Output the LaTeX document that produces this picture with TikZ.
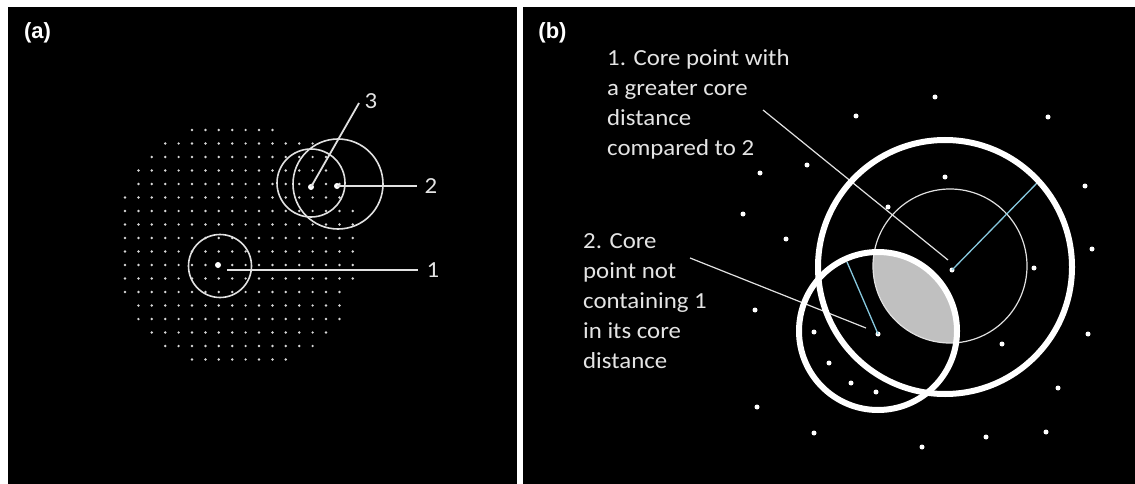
\documentclass[tikz,border=0pt]{standalone}
\usepackage{fontspec}
\setmainfont{Carlito}
\newfontfamily\notefont[FakeStretch=1.08]{Carlito}
\newfontfamily\tagfont{Liberation Sans}
\usepackage{tikz}
\usepackage{xcolor}
\usetikzlibrary{positioning,calc}
\definecolor{dotGray}{RGB}{215,215,215}
\definecolor{ringGray}{RGB}{225,225,225}
\definecolor{lensGray}{RGB}{192,192,192}
\definecolor{radiusCyan}{RGB}{135,200,222}
\definecolor{textGray}{RGB}{228,228,228}

\tikzset{
    tag/.style={text=white, font=\tagfont\bfseries\fontsize{22}{26}\selectfont, inner sep=0pt},
    numlabel/.style={text=textGray, font=\notefont\fontsize{23}{27}\selectfont, inner sep=0pt},
    note/.style={text=textGray, font=\notefont\fontsize{23}{30}\selectfont, align=left, inner sep=0pt, anchor=north west},
    centre/.style={circle, fill=white, inner sep=0pt, minimum size=6pt},
    bdot/.style={circle, fill=white, inner sep=0pt, minimum size=5pt},
    pointer/.style={draw=ringGray, line width=1.8pt},
    thinpointer/.style={draw=ringGray, line width=1.2pt},
    reach/.style={draw=ringGray, line width=1.6pt},
    corering/.style={draw=white, line width=6pt},
    radius line/.style={draw=radiusCyan, line width=1.3pt}
}

\begin{document}
\begin{tikzpicture}[x=1pt, y=-1pt]
                    \useasboundingbox (0,0) rectangle (1135,484);
                    \fill[white] (0,0) rectangle (1135,484);
                    % Panels
                    \fill[black] (8,7) rectangle (517,484);
                    \fill[black] (523,7) rectangle (1135,484);
                    \node[tag] (taga) at (37.5,32.5) {(a)};
                    \node[tag] (tagb) at (552.5,32.5) {(b)};

                    % (a) point cloud
                    \foreach \i in {0,...,17} {
                        \foreach \j in {0,...,17} {
                            \pgfmathsetmacro{\gx}{125+13.4*\i}
                            \pgfmathsetmacro{\gy}{130+13.5*\j}
                            \pgfmathtruncatemacro{\inside}{((abs(\gx-237.5)+0.01)/118)^2.4+((abs(\gy-245)+0.01)/120)^2.4<1.02}
                            \ifnum\inside=1 \fill[dotGray] (\gx,\gy) circle (1.35);\fi
                        }
                    }

                    % (a) core distances
                    \draw[reach] (220,266) circle (31.5);
                    \draw[reach] (311,183) circle (34);
                    \draw[reach] (338,184) circle (45);
                    \node[centre] (pa1) at (218,265) {};
                    \node[centre] (pa3) at (311,187) {};
                    \node[centre] (pa2) at (337,186) {};

                    % (a) labels
                    \node[numlabel] (la1) at (433,270) {1};
                    \node[numlabel] (la2) at (431,186) {2};
                    \node[numlabel] (la3) at (371,101) {3};
                    \coordinate (sa1) at (227,270);
                    \coordinate (ea1) at (418,270);
                    \coordinate (ea2) at (417,186);
                    \coordinate (ea3) at (359,103);
                    \draw[pointer] (sa1) -- (ea1);
                    \draw[pointer] (pa2.center) -- (ea2);
                    \draw[pointer] (pa3.center) -- (ea3);

                    % (b) overlap of the two core distances
                    \begin{scope}
                        \clip (950,266) circle (77);
                        \fill[lensGray] (878,331) circle (79);
                    \end{scope}
                    \draw[draw=ringGray, line width=1.2pt] (950,266) circle (77);

                    % (b) points
                    \node[bdot] (q1) at (952,270) {};
                    \node[bdot] (q2) at (878,334) {};
                    \foreach \x/\y [count=\k] in {935/97, 856/116, 1048/117, 760/173, 807/165,
                        945/177, 1085/186, 743/214, 888/207, 786/239, 1092/249, 1034/268,
                        755/310, 814/332, 829/363, 1002/344, 1088/334, 851/383, 876/392,
                        1058/388, 757/407, 814/433, 986/437, 922/447, 1046/432} {
                        \node[bdot] (d\k) at (\x,\y) {};
                    }

                    % (b) radii
                    \coordinate (r1) at (1038,182);
                    \coordinate (r2) at (847,262);
                    \draw[radius line] (q1.center) -- (r1);
                    \draw[radius line] (q2.center) -- (r2);

                    % (b) notes
                    \node[note] (note1) at (607,49) {1. Core point with\\a greater core\\distance\\compared to 2};
                    \node[note] (note2) at (583,233) {2. Core\\point not\\containing 1\\in its core\\distance};
                    \coordinate (s1) at (763,110);
                    \coordinate (e1) at (948,260);
                    \coordinate (s2) at (690,258);
                    \coordinate (e2) at (866,328);
                    \draw[thinpointer] (s1) -- (e1);
                    \draw[thinpointer] (s2) -- (e2);

                    % (b) core distance rings
                    \draw[corering] (945,267) circle (127);
                    \draw[corering] (878,331) circle (79);
                \end{tikzpicture}
\end{document}
